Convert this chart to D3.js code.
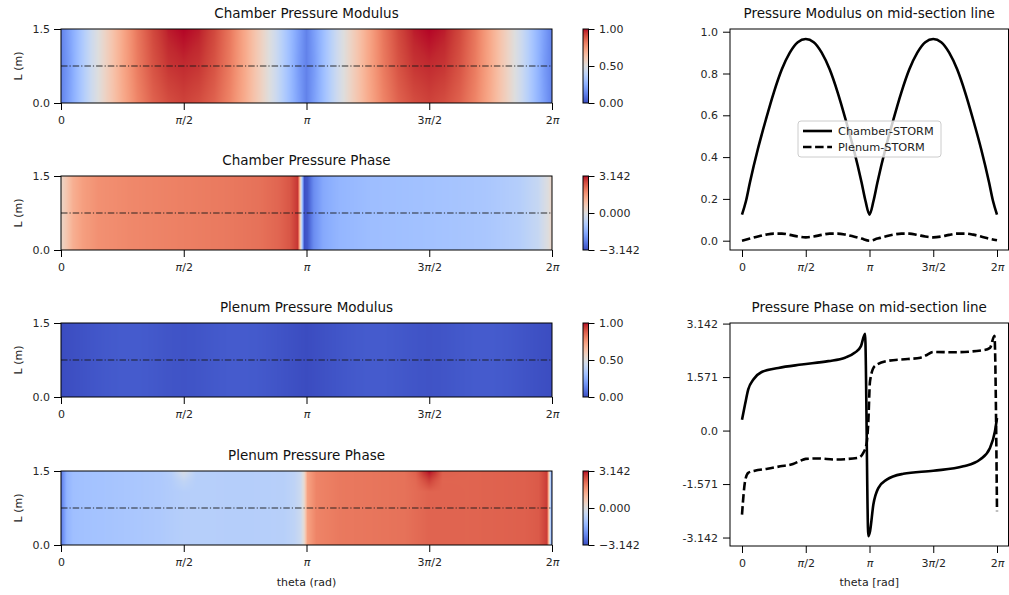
<!DOCTYPE html>
<html><head><meta charset="utf-8">
<script src="https://cdn.jsdelivr.net/npm/d3@7/dist/d3.min.js"></script>
<style>
body{margin:0;background:#fff}
svg{display:block;font-family:"DejaVu Sans",sans-serif}
</style>
</head><body>
<svg id="chart" width="1009" height="595"></svg>
<script>
const PI = Math.PI;

// ---------- tick labels ----------
const thetaTickPos = [0, 0.5, 1, 1.5, 2];               // units of pi
const thetaTickLabels = ["0", "π/2", "π", "3π/2", "2π"];
const lTickPos = [0, 1.5];
const lTickLabels = ["0.0", "1.5"];
const modCbarTicks = [0, 0.5, 1];
const modCbarLabels = ["0.00", "0.50", "1.00"];
const phaseCbarTicks = [-PI, 0, PI];
const phaseCbarLabels = ["\u22123.142", "0.000", "3.142"];
const modLineTicks = [0, 0.2, 0.4, 0.6, 0.8, 1.0];
const modLineLabels = ["0.0", "0.2", "0.4", "0.6", "0.8", "1.0"];
const phaseLineTicks = [-PI, -PI / 2, 0, PI / 2, PI];
const phaseLineLabels = ["-3.142", "-1.571", "0.0", "1.571", "3.142"];

// ---------- series: modulus on mid-section line (theta in units of pi) ----------
const chamberModTheta = [0, 0.03125, 0.0625, 0.125, 0.1875, 0.25, 0.3125, 0.375, 0.4375, 0.5, 0.5625, 0.625, 0.6875, 0.75, 0.8125,
  0.875, 0.9375, 0.96875, 1, 1.03125, 1.0625, 1.125, 1.1875, 1.25, 1.3125, 1.375, 1.4375, 1.5, 1.5625, 1.625, 1.6875, 1.75, 1.8125,
  1.875, 1.9375, 1.96875, 2];
const chamberMod = [0.125, 0.19, 0.28, 0.44, 0.58, 0.71, 0.82, 0.90, 0.95, 0.965, 0.95, 0.90, 0.82, 0.71, 0.58,
  0.44, 0.28, 0.19, 0.125, 0.19, 0.28, 0.44, 0.58, 0.71, 0.82, 0.90, 0.95, 0.965, 0.95, 0.90, 0.82, 0.71, 0.58,
  0.44, 0.28, 0.19, 0.125];
const modTheta = [0, 0.0625, 0.125, 0.1875, 0.25, 0.3125, 0.375, 0.4375, 0.5, 0.5625, 0.625, 0.6875, 0.75, 0.8125, 0.875, 0.9375, 1,
  1.0625, 1.125, 1.1875, 1.25, 1.3125, 1.375, 1.4375, 1.5, 1.5625, 1.625, 1.6875, 1.75, 1.8125, 1.875, 1.9375, 2];
const plenumMod = [0.0, 0.01, 0.02, 0.029, 0.034, 0.034, 0.028, 0.02, 0.016, 0.02, 0.028, 0.034, 0.034, 0.029, 0.02, 0.01, 0.0,
  0.01, 0.02, 0.029, 0.034, 0.034, 0.028, 0.02, 0.016, 0.02, 0.028, 0.034, 0.034, 0.029, 0.02, 0.01, 0.002];
// chamber modulus field at the top (L=1.5) and bottom (L=0) edges
const chamberModTop = [0.125, 0.28, 0.44, 0.58, 0.71, 0.83, 0.92, 0.98, 1.0, 0.98, 0.92, 0.83, 0.71, 0.58, 0.44, 0.28, 0.125,
  0.28, 0.44, 0.58, 0.71, 0.83, 0.92, 0.98, 1.0, 0.98, 0.92, 0.83, 0.71, 0.58, 0.44, 0.28, 0.125];
const chamberModBottom = [0.125, 0.28, 0.44, 0.58, 0.70, 0.80, 0.87, 0.91, 0.93, 0.91, 0.87, 0.80, 0.70, 0.58, 0.44, 0.28, 0.125,
  0.28, 0.44, 0.58, 0.70, 0.80, 0.87, 0.91, 0.93, 0.91, 0.87, 0.80, 0.70, 0.58, 0.44, 0.28, 0.125];

// ---------- series: phase on mid-section line ----------
const chamberPhaseTheta = [0, 0.024, 0.049, 0.089, 0.154, 0.285, 0.468, 0.677, 0.808, 0.886, 0.933, 0.965, 0.991,
  1.004, 1.030, 1.069, 1.135, 1.265, 1.5, 1.736, 1.867, 1.945, 1.984, 2.0];
const chamberPhase = [0.32, 0.77, 1.21, 1.5, 1.72, 1.84, 1.94, 2.04, 2.14, 2.29, 2.48, 2.84, -3.1,
  -2.96, -2.18, -1.69, -1.44, -1.27, -1.18, -1.05, -0.85, -0.51, -0.02, 0.37];
const plenumPhaseTheta = [0, 0.024, 0.049, 0.10, 0.20, 0.30, 0.40, 0.45, 0.50, 0.60, 0.73, 0.91, 0.95, 0.976, 0.99,
  1.004, 1.04, 1.135, 1.30, 1.40, 1.45, 1.50, 1.66, 1.89, 1.945, 1.98, 2.0];
const plenumPhase = [-2.47, -1.49, -1.24, -1.18, -1.12, -1.05, -0.98, -0.9, -0.83, -0.82, -0.85, -0.80, -0.66, -0.41, 0.2,
  1.45, 1.89, 2.04, 2.1, 2.14, 2.22, 2.31, 2.30, 2.36, 2.43, 2.78, -2.37];
// plenum phase field near the top edge (L=1.3 and L=1.5)
const plenumPhaseTopTheta = [0, 0.024, 0.049, 0.10, 0.20, 0.30, 0.40, 0.45, 0.50, 0.55, 0.60, 0.73, 0.91, 0.95, 0.976, 0.99,
  1.004, 1.04, 1.135, 1.30, 1.40, 1.445, 1.475, 1.50, 1.525, 1.555, 1.66, 1.89, 1.945, 1.98, 2.0];
const plenumPhaseUpper = [-2.47, -1.49, -1.24, -1.18, -1.12, -1.05, -0.98, -0.88, -0.6, -0.82, -0.82, -0.85, -0.80, -0.66, -0.41, 0.2,
  1.45, 1.89, 2.04, 2.1, 2.14, 2.25, 2.5, 2.72, 2.5, 2.3, 2.30, 2.36, 2.43, 2.78, -2.37];
const plenumPhaseTop = [-2.47, -1.49, -1.24, -1.18, -1.12, -1.05, -0.98, -0.8, -0.12, -0.78, -0.82, -0.85, -0.80, -0.66, -0.41, 0.2,
  1.45, 1.89, 2.04, 2.1, 2.14, 2.35, 2.85, 3.12, 2.85, 2.35, 2.30, 2.36, 2.43, 2.78, -2.37];

// ---------- coolwarm colormap definition ----------
const COOLWARM = [
[0.0,0.2298057,0.298717966,0.753683153],[0.03125,0.26623388,0.353094838,0.801466763],[0.0625,0.30386891,0.406535296,0.84495867],
[0.09375,0.342804478,0.458757618,0.883725899],[0.125,0.38301334,0.50941904,0.917387822],[0.15625,0.424369608,0.558148092,0.945619588],
[0.1875,0.46666708,0.604562568,0.968154911],[0.21875,0.509635204,0.648280772,0.98478814],[0.25,0.552953156,0.688929332,0.995375608],
[0.28125,0.596262162,0.726149107,0.999836203],[0.3125,0.639176211,0.759599947,0.998151185],[0.34375,0.681291281,0.788964712,0.990363227],
[0.375,0.722193294,0.813952739,0.976574709],[0.40625,0.761464949,0.834302879,0.956945269],[0.4375,0.798691636,0.849786142,0.931688648],
[0.46875,0.833466556,0.860207984,0.901068838],[0.5,0.865395197,0.86541021,0.865395561],[0.53125,0.897787179,0.848937047,0.820880546],
[0.5625,0.924127593,0.827384882,0.774508472],[0.59375,0.944468518,0.800927443,0.726736146],[0.625,0.958852946,0.769767752,0.678007945],
[0.65625,0.96732803,0.734132809,0.628751763],[0.6875,0.969954137,0.694266682,0.579375448],[0.71875,0.966811177,0.650421156,0.530263762],
[0.75,0.958003065,0.602842431,0.481775914],[0.78125,0.943660866,0.551750968,0.434243684],[0.8125,0.923944917,0.49730856,0.387970225],
[0.84375,0.89904617,0.439559467,0.343229596],[0.875,0.869186849,0.378313092,0.300267182],[0.90625,0.834620542,0.312874446,0.259301199],
[0.9375,0.795631745,0.24128379,0.220525627],[0.96875,0.752534934,0.157246067,0.184115123],[1.0,0.705673158,0.01555616,0.150232812]];
const cwStops = COOLWARM.map(d => [d[0], Math.round(d[1]*255), Math.round(d[2]*255), Math.round(d[3]*255)]);
function coolwarmRGB(t) {
  t = Math.max(0, Math.min(1, t));
  let i = Math.min(cwStops.length - 2, Math.floor(t * 32));
  const a = cwStops[i], b = cwStops[i + 1];
  const f = (t - a[0]) / (b[0] - a[0]);
  return [a[1] + (b[1]-a[1])*f, a[2] + (b[2]-a[2])*f, a[3] + (b[3]-a[3])*f];
}

// ---------- layout ----------
const svg = d3.select("#chart");
const HL = 61, HR = 552, HH = 74;
const tops = [29, 176, 323, 471];
const FONT = "DejaVu Sans";
const defs = svg.append("defs");

function piText(sel, str) {
  sel.text(null);
  str.split(/(π)/).forEach(p => {
    if (!p) return;
    const t = sel.append("tspan").text(p);
    if (p === "π") t.attr("font-style", "italic");
  });
}

const panels = [
  {title: "Chamber Pressure Modulus", domain: [0, 1], ticks: modCbarTicks, labels: modCbarLabels,
   rows: [{L: 0, th: modTheta, v: chamberModBottom}, {L: 0.75, th: chamberModTheta, v: chamberMod}, {L: 1.5, th: modTheta, v: chamberModTop}]},
  {title: "Chamber Pressure Phase", domain: [-PI, PI], ticks: phaseCbarTicks, labels: phaseCbarLabels,
   rows: [{L: 0, th: chamberPhaseTheta, v: chamberPhase}, {L: 1.5, th: chamberPhaseTheta, v: chamberPhase}]},
  {title: "Plenum Pressure Modulus", domain: [0, 1], ticks: modCbarTicks, labels: modCbarLabels,
   rows: [{L: 0, th: modTheta, v: plenumMod}, {L: 1.5, th: modTheta, v: plenumMod}]},
  {title: "Plenum Pressure Phase", domain: [-PI, PI], ticks: phaseCbarTicks, labels: phaseCbarLabels,
   rows: [{L: 0, th: plenumPhaseTheta, v: plenumPhase}, {L: 1.08, th: plenumPhaseTheta, v: plenumPhase},
          {L: 1.3, th: plenumPhaseTopTheta, v: plenumPhaseUpper},
          {L: 1.5, th: plenumPhaseTopTheta, v: plenumPhaseTop}]}
];

const xH = d3.scaleLinear().domain([0, 2 * PI]).range([HL, HR]);

panels.forEach((p, idx) => {
  const top = tops[idx];
  const y = d3.scaleLinear().domain([0, 1.5]).range([top + HH, top]);
  const g = svg.append("g");
  // heatmap raster
  const W = HR - HL, H = HH;
  const cv = document.createElement("canvas");
  cv.width = W; cv.height = H;
  const ctx = cv.getContext("2d");
  const img = ctx.createImageData(W, H);
  const norm = d3.scaleLinear().domain(p.domain).range([0, 1]);
  const rowScales = p.rows.map(r => d3.scaleLinear().domain(r.th.map(t => t * PI)).range(r.v).clamp(true));
  const Ls = p.rows.map(r => r.L);
  for (let i = 0; i < W; i++) {
    const th = xH.invert(HL + i + 0.5);
    const col = d3.scaleLinear().domain(Ls).range(rowScales.map(s => s(th))).clamp(true);
    for (let j = 0; j < H; j++) {
      const L = y.invert(top + j + 0.5);
      const c = coolwarmRGB(norm(col(L)));
      const k = (j * W + i) * 4;
      img.data[k] = c[0]; img.data[k+1] = c[1]; img.data[k+2] = c[2]; img.data[k+3] = 255;
    }
  }
  ctx.putImageData(img, 0, 0);
  g.append("image").attr("href", cv.toDataURL()).attr("x", HL).attr("y", top)
    .attr("width", W).attr("height", H).attr("preserveAspectRatio", "none");
  // mid-section line
  g.append("line").attr("x1", HL).attr("x2", HR).attr("y1", y(0.75)).attr("y2", y(0.75))
    .attr("stroke", "#1a1a1a").attr("stroke-width", 0.9).attr("stroke-dasharray", "6.5,2,1.2,2");
  // frame
  g.append("rect").attr("x", HL).attr("y", top).attr("width", W).attr("height", H)
    .attr("fill", "none").attr("stroke", "#000").attr("stroke-width", 1);
  // axes
  const ax = g.append("g").attr("transform", `translate(0,${top + HH})`)
    .call(d3.axisBottom(xH).tickValues(thetaTickPos.map(t => t * PI)).tickSize(7).tickPadding(6)
      .tickFormat((d, i) => thetaTickLabels[i]));
  ax.select(".domain").remove();
  ax.selectAll("text").attr("font-size", 11).attr("font-family", FONT).attr("fill", "#262626")
    .each(function(d, i) { piText(d3.select(this), thetaTickLabels[i]); });
  const ay = g.append("g").attr("transform", `translate(${HL},0)`)
    .call(d3.axisLeft(y).tickValues(lTickPos).tickSize(7).tickPadding(4).tickFormat((d, i) => lTickLabels[i]));
  ay.select(".domain").remove();
  ay.selectAll("text").attr("font-size", 11).attr("font-family", FONT).attr("fill", "#262626");
  g.selectAll(".tick line").attr("stroke", "#000");
  // title
  g.append("text").attr("x", (HL + HR) / 2).attr("y", top - 11).attr("text-anchor", "middle")
    .attr("font-size", 13.5).attr("font-family", FONT).attr("fill", "#111").text(p.title);
  // y label
  g.append("text").attr("transform", `translate(22,${top + HH / 2}) rotate(-90)`).attr("text-anchor", "middle")
    .attr("font-size", 11).attr("font-family", FONT).attr("fill", "#222").text("L (m)");
  // colorbar
  const gid = "cb" + idx;
  const grad = defs.append("linearGradient").attr("id", gid).attr("x1", 0).attr("y1", 1).attr("x2", 0).attr("y2", 0);
  COOLWARM.forEach(d => grad.append("stop").attr("offset", d[0])
    .attr("stop-color", d3.rgb(d[1]*255, d[2]*255, d[3]*255).formatHex()));
  const CBX = 583, CBW = 5.5;
  const yc = d3.scaleLinear().domain(p.domain).range([top + HH, top]);
  g.append("rect").attr("x", CBX).attr("y", top).attr("width", CBW).attr("height", HH)
    .attr("fill", `url(#${gid})`).attr("stroke", "#000").attr("stroke-width", 1);
  const ac = g.append("g").attr("transform", `translate(${CBX + CBW},0)`)
    .call(d3.axisRight(yc).tickValues(p.ticks).tickSize(6).tickPadding(4.5).tickFormat((d, i) => p.labels[i]));
  ac.select(".domain").remove();
  ac.selectAll("text").attr("font-size", 11).attr("font-family", FONT).attr("fill", "#262626");
  ac.selectAll(".tick line").attr("stroke", "#000");
});

svg.append("text").attr("x", (HL + HR) / 2).attr("y", 586).attr("text-anchor", "middle")
  .attr("font-size", 11).attr("font-family", FONT).attr("fill", "#222").text("theta (rad)");

// ---------- right line plots ----------
const RL = 730, RR = 1008.5;
const xR = d3.scaleLinear().domain([0, 2 * PI]).range([742, 997]);
const lineDefs = [
  {top: 29, bottom: 250, domain: [-0.0445, 1.013], ticks: modLineTicks, labels: modLineLabels,
   title: "Pressure Modulus on mid-section line",
   series: [{th: chamberModTheta, v: chamberMod, dash: null}, {th: modTheta, v: plenumMod, dash: "8.5,3.6"}], legend: true},
  {top: 323, bottom: 546, domain: [-3.39, 3.159], ticks: phaseLineTicks, labels: phaseLineLabels,
   title: "Pressure Phase on mid-section line",
   series: [{th: chamberPhaseTheta, v: chamberPhase, dash: null}, {th: plenumPhaseTheta, v: plenumPhase, dash: "8.5,3.6"}],
   xlabel: "theta [rad]"}
];

lineDefs.forEach(ld => {
  const g = svg.append("g");
  const y = d3.scaleLinear().domain(ld.domain).range([ld.bottom, ld.top]);
  const line = d3.line().x(d => xR(d[0] * PI)).y(d => y(d[1])).curve(d3.curveMonotoneX);
  ld.series.forEach(s => {
    g.append("path").datum(s.th.map((t, i) => [t, s.v[i]])).attr("d", line)
      .attr("fill", "none").attr("stroke", "#000").attr("stroke-width", 2.6)
      .attr("stroke-dasharray", s.dash).attr("stroke-linejoin", "round");
  });
  g.append("rect").attr("x", RL).attr("y", ld.top).attr("width", RR - RL).attr("height", ld.bottom - ld.top)
    .attr("fill", "none").attr("stroke", "#000").attr("stroke-width", 1);
  const ax = g.append("g").attr("transform", `translate(0,${ld.bottom})`)
    .call(d3.axisBottom(xR).tickValues(thetaTickPos.map(t => t * PI)).tickSize(7).tickPadding(6)
      .tickFormat((d, i) => thetaTickLabels[i]));
  ax.select(".domain").remove();
  ax.selectAll("text").attr("font-size", 11).attr("font-family", FONT).attr("fill", "#262626")
    .each(function(d, i) { piText(d3.select(this), thetaTickLabels[i]); });
  const ay = g.append("g").attr("transform", `translate(${RL},0)`)
    .call(d3.axisLeft(y).tickValues(ld.ticks).tickSize(7).tickPadding(5).tickFormat((d, i) => ld.labels[i]));
  ay.select(".domain").remove();
  ay.selectAll("text").attr("font-size", 11).attr("font-family", FONT).attr("fill", "#262626");
  g.selectAll(".tick line").attr("stroke", "#000");
  g.append("text").attr("x", (RL + RR) / 2).attr("y", ld.top - 11).attr("text-anchor", "middle")
    .attr("font-size", 13.5).attr("font-family", FONT).attr("fill", "#111").text(ld.title);
  if (ld.xlabel) {
    g.append("text").attr("x", (RL + RR) / 2).attr("y", 586).attr("text-anchor", "middle")
      .attr("font-size", 11).attr("font-family", FONT).attr("fill", "#222").text(ld.xlabel);
  }
  if (ld.legend) {
    const lg = g.append("g");
    lg.append("rect").attr("x", 798).attr("y", 121).attr("width", 143).attr("height", 36).attr("rx", 3)
      .attr("fill", "#fff").attr("fill-opacity", 0.8).attr("stroke", "#cccccc").attr("stroke-width", 1);
    ["Chamber-STORM", "Plenum-STORM"].forEach((name, i) => {
      const yy = 131 + i * 16;
      lg.append("line").attr("x1", 803).attr("x2", 832).attr("y1", yy).attr("y2", yy)
        .attr("stroke", "#000").attr("stroke-width", 2.6).attr("stroke-dasharray", ld.series[i].dash);
      lg.append("text").attr("x", 838).attr("y", yy).attr("dy", "0.35em").attr("font-size", 11.3)
        .attr("font-family", FONT).attr("fill", "#222").text(name);
    });
  }
});
</script>
</body></html>
